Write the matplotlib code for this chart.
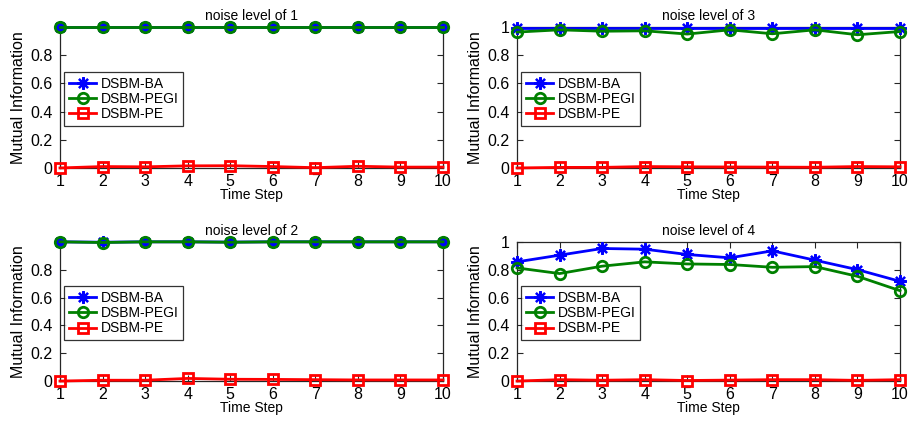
import matplotlib
matplotlib.use("Agg")
import matplotlib.pyplot as plt

plt.rcParams['font.family'] = ['Liberation Sans', 'DejaVu Sans']

# 时间步
steps = [1, 2, 3, 4, 5, 6, 7, 8, 9, 10]
names = ["DSBM-BA", "DSBM-PEGI", "DSBM-PE"]
titles = ["noise level of 1", "noise level of 3", "noise level of 2", "noise level of 4"]

# noise level 1
ba_1 = [1.0, 1.0, 1.0, 1.0, 1.0, 1.0, 1.0, 1.0, 1.0, 1.0]
pegi_1 = [1.0, 1.0, 1.0, 1.0, 1.0, 1.0, 1.0, 1.0, 1.0, 1.0]
pe_1 = [0.0, 0.01, 0.008, 0.015, 0.016, 0.01, 0.002, 0.012, 0.006, 0.006]

# noise level 3
ba_3 = [0.99, 0.99, 0.99, 0.99, 0.99, 0.99, 0.99, 0.99, 0.99, 0.99]
pegi_3 = [0.964, 0.98, 0.97, 0.973, 0.95, 0.98, 0.952, 0.98, 0.945, 0.968]
pe_3 = [0.0, 0.004, 0.004, 0.01, 0.008, 0.007, 0.006, 0.005, 0.01, 0.008]

# noise level 2
ba_2 = [1.0, 0.997, 1.0, 1.0, 0.998, 1.0, 1.0, 1.0, 1.0, 1.0]
pegi_2 = [1.0, 0.995, 1.0, 1.0, 0.997, 1.0, 1.0, 1.0, 1.0, 1.0]
pe_2 = [0.0, 0.006, 0.006, 0.019, 0.013, 0.012, 0.01, 0.008, 0.008, 0.008]

# noise level 4
ba_4 = [0.856, 0.904, 0.952, 0.947, 0.909, 0.885, 0.935, 0.868, 0.80, 0.716]
pegi_4 = [0.8125, 0.772, 0.825, 0.856, 0.841, 0.837, 0.817, 0.822, 0.752, 0.649]
pe_4 = [0.0, 0.01, 0.006, 0.01, 0.004, 0.007, 0.01, 0.01, 0.005, 0.01]

panels = [(ba_1, pegi_1, pe_1), (ba_3, pegi_3, pe_3),
          (ba_2, pegi_2, pe_2), (ba_4, pegi_4, pe_4)]
yticks_list = [[0, 0.2, 0.4, 0.6, 0.8], [0, 0.2, 0.4, 0.6, 0.8, 1],
               [0, 0.2, 0.4, 0.6, 0.8], [0, 0.2, 0.4, 0.6, 0.8, 1]]

# 坐标系位置 (left, bottom, width, height)
rects = [[0.0654, 0.602, 0.4177, 0.334],
         [0.5638, 0.602, 0.4177, 0.334],
         [0.0654, 0.097, 0.4177, 0.330],
         [0.5638, 0.097, 0.4177, 0.330]]

fig = plt.figure(figsize=(9.17, 4.22), dpi=100, facecolor='white')

for i in range(4):
    ax = fig.add_axes(rects[i])
    ba, pegi, pe = panels[i]
    ax.plot(steps, ba, color=(0, 0, 1), lw=2, marker=(8, 2, 0), ms=9, mew=1.6,
            label=names[0], zorder=3, clip_on=False)
    ax.plot(steps, pegi, color=(0, 0.5, 0), lw=2, marker='o', ms=7.5, mew=2,
            mfc='none', label=names[1], zorder=4, clip_on=False)
    ax.plot(steps, pe, color=(1, 0, 0), lw=2, marker='s', ms=6.5, mew=2,
            mfc='none', label=names[2], zorder=5, clip_on=False)
    ax.set_xlim(1, 10)
    ax.set_ylim(0, 1)
    ax.set_xticks(steps)
    ax.set_yticks(yticks_list[i])
    ax.set_yticklabels([('%g' % v) for v in yticks_list[i]])
    ax.tick_params(direction='in', length=4, width=0.8, labelsize=11.5,
                   top=True, right=True, colors='#262626')
    ax.tick_params(axis='y', pad=5.5)
    ax.tick_params(axis='x', pad=4.5)
    for lab in ax.get_xticklabels() + ax.get_yticklabels():
        lab.set_color('black')
    for sp in ax.spines.values():
        sp.set_color('#262626')
        sp.set_linewidth(0.9)
    ax.set_title(titles[i], fontsize=10, pad=5)
    ax.set_xlabel("Time Step", fontsize=10, labelpad=-1)
    ax.set_ylabel("Mutual Information", fontsize=11.5, labelpad=3)
    leg = ax.legend(loc='upper left', bbox_to_anchor=(0.01, 0.68), fontsize=10,
                    frameon=True, fancybox=False, edgecolor='black',
                    borderpad=0.35, labelspacing=0.08, handlelength=2.0,
                    handletextpad=0.3, borderaxespad=0)
    leg.get_frame().set_linewidth(0.9)
    for line in leg.get_lines():
        line.set_linewidth(2)

fig.savefig("out.png", dpi=100, facecolor='white')
